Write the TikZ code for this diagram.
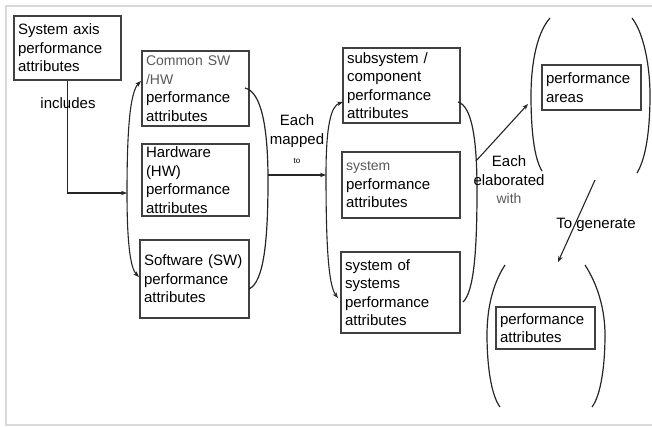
\documentclass[tikz,border=0pt]{standalone}
\usepackage{fontspec}
\setmainfont{Liberation Sans}
\usetikzlibrary{arrows.meta}
\newcommand\lite[1]{{\color{black!65}\fontsize{14}{18.5}\selectfont #1}}
\begin{document}
\begin{tikzpicture}[x=1pt,y=-1pt,
  box/.style={draw=black!75, line width=1.2pt, rectangle, inner xsep=4pt, inner ysep=0pt, align=left, font=\fontsize{15}{18.5}\selectfont},
  conn/.style={draw=black!85, line width=1.1pt},
  arr/.style={conn, -{Stealth[length=6pt,width=4.5pt]}},
  paren/.style={draw=black!85, line width=1.2pt},
  lbl/.style={font=\fontsize{15}{18.5}\selectfont, align=center, inner sep=0pt}]
\useasboundingbox (0,0) rectangle (652,426);
\draw[black!15, line width=2pt] (660,6) -- (6,6) -- (6,425) -- (660,425);

% boxes
\node[box, text width=99pt, minimum height=64pt] (b1) at (67.5,48) {System axis\\performance\\attributes};
\node[box, text width=99pt, minimum height=75pt] (c1) at (195.5,88.5) {\lite{Common SW}\\\lite{/HW}\\performance\\attributes};
\node[box, text width=99pt, minimum height=72pt] (c2) at (195.5,180) {Hardware\\(HW)\\performance\\attributes};
\node[box, text width=101pt, minimum height=78pt] (c3) at (194.5,279) {Software (SW)\\performance\\attributes};
\node[box, text width=109pt, minimum height=75pt] (m1) at (401.5,85.5) {subsystem /\\component\\performance\\attributes};
\node[box, text width=110pt, minimum height=66pt] (m2) at (401,185) {\lite{system}\\performance\\attributes};
\node[box, text width=111pt, minimum height=81pt] (m3) at (400.5,292.5) {system of\\systems\\performance\\attributes};
\node[box, text width=91pt, minimum height=45pt] (r1) at (591.5,87.5) {performance\\areas};
\node[box, text width=91pt, minimum height=42pt] (r2) at (545.5,328) {performance\\attributes};

% bracket points
\coordinate (jL) at (127,193);
\coordinate (jR) at (268,175);
\coordinate (mL) at (326,175);
\coordinate (mR) at (476,161);
\coordinate (pA) at (528,104);
\coordinate (gS) at (595,180);
\coordinate (gE) at (558,262);

% includes
\draw[arr] (b1.south) |- (jL);
\node[lbl] (inc) at (68,103) {includes};

% left bracket with arrows
\draw[arr] (jL) .. controls (127,130) and (130,92) .. (141,81);
\draw[arr] (jL) .. controls (127,240) and (130,268) .. (139,277);
% right bracket of left group
\draw[paren] (245,88) .. controls (262,92) and (268,130) .. (268,180) .. controls (268,240) and (264,282) .. (249,289);
% mapped to
\draw[arr] (jR) -- (mL);
\node[lbl] (map) at (297,131) {Each\\mapped};
\node[lbl, font=\fontsize{8}{10}\selectfont] (mto) at (297,161) {to};

% middle left bracket
\draw[arr] (mL) .. controls (326,125) and (331,106) .. (343,102);
\draw[arr] (mL) .. controls (326,240) and (328,285) .. (338,298);
% middle right bracket
\draw[paren] (458,102) .. controls (472,106) and (477,140) .. (477,190) .. controls (477,250) and (474,292) .. (463,302);
% elaborated
\draw[arr] (mR) -- (pA);
\node[lbl] (ela) at (509,180) {Each\\elaborated\\\lite{with}};

% top parens
\draw[paren] (550,18) .. controls (535,35) and (531,70) .. (531,95) .. controls (531,130) and (534,158) .. (542,171);
\draw[paren] (632,18) .. controls (645,35) and (650,70) .. (650,95) .. controls (650,130) and (646,158) .. (637,173);
% generate
\draw[arr] (gS) -- (gE);
\node[lbl] (gen) at (596,225) {To generate};
% bottom parens
\draw[paren] (505,265) .. controls (492,285) and (487,310) .. (487,335) .. controls (487,365) and (491,395) .. (500,407);
\draw[paren] (585,265) .. controls (598,285) and (605,310) .. (605,335) .. controls (605,365) and (601,395) .. (592,407);
\end{tikzpicture}
\end{document}
